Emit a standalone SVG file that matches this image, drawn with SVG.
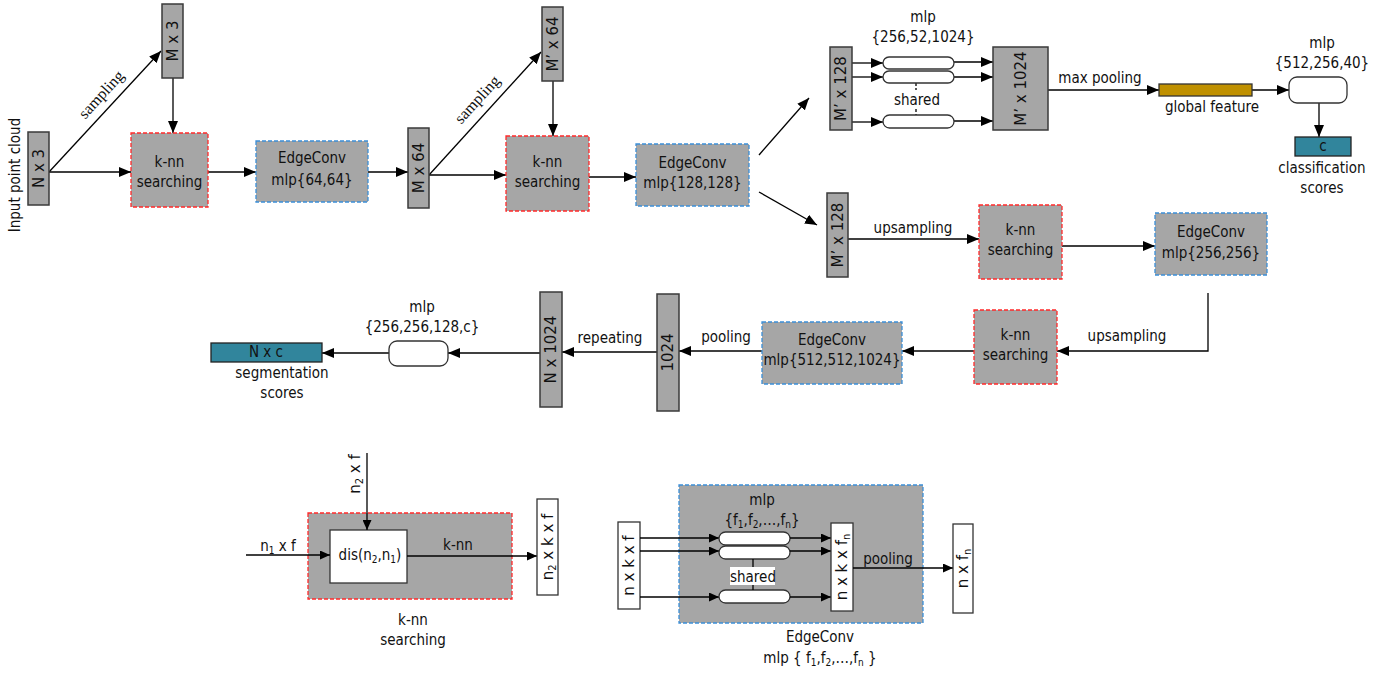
<svg xmlns="http://www.w3.org/2000/svg" width="1392" height="673" viewBox="0 0 1392 673">
<defs>
<marker id="ah" markerUnits="userSpaceOnUse" markerWidth="12" markerHeight="10" refX="12" refY="5" orient="auto">
<path d="M0,0 L12,5 L0,10 z" fill="#000"/>
</marker>
<marker id="ahs" markerUnits="userSpaceOnUse" markerWidth="10" markerHeight="9" refX="10" refY="4.5" orient="auto">
<path d="M0,0 L10,4.5 L0,9 z" fill="#000"/>
</marker>
</defs>
<style>
.t{font-family:"DejaVu Sans Condensed","DejaVu Sans",sans-serif;font-size:15px;fill:#111;text-anchor:middle}
.v{font-family:"DejaVu Sans",sans-serif;font-size:15px;fill:#111;text-anchor:middle}
.sr{font-family:"Liberation Serif",serif;font-size:16px;fill:#111;text-anchor:middle}
.sub{font-size:10px}
.bar{fill:#a6a6a6;stroke:#3a3a3a;stroke-width:1.5}
.knn{fill:#a6a6a6;stroke:#ff2a2a;stroke-width:1.3;stroke-dasharray:4 2}
.ec{fill:#a6a6a6;stroke:#3b8fd8;stroke-width:1.3;stroke-dasharray:4 2}
.wb{fill:#fff;stroke:#333;stroke-width:1.3}
.teal{fill:#31859c;stroke:#222;stroke-width:1.3}
.gold{fill:#bf9000;stroke:#333;stroke-width:1.3}
.ln{stroke:#000;stroke-width:1.3;fill:none}
</style>

<g id="connectors">
<line class="ln" x1="49" y1="172" x2="131" y2="172" marker-end="url(#ah)"/>
<line class="ln" x1="49" y1="172" x2="161" y2="51" marker-end="url(#ah)"/>
<line class="ln" x1="173" y1="78" x2="173" y2="133" marker-end="url(#ah)"/>
<line class="ln" x1="208" y1="172" x2="256" y2="172" marker-end="url(#ah)"/>
<line class="ln" x1="368" y1="172" x2="408" y2="172" marker-end="url(#ah)"/>
<line class="ln" x1="429" y1="175" x2="506" y2="175" marker-end="url(#ah)"/>
<line class="ln" x1="429" y1="175" x2="541" y2="52" marker-end="url(#ah)"/>
<line class="ln" x1="553" y1="81" x2="553" y2="136" marker-end="url(#ah)"/>
<line class="ln" x1="589" y1="177" x2="636" y2="177" marker-end="url(#ah)"/>
<line class="ln" x1="759" y1="155" x2="809" y2="98" marker-end="url(#ah)"/>
<line class="ln" x1="759" y1="192" x2="817" y2="225" marker-end="url(#ah)"/>
<line class="ln" x1="852" y1="63" x2="883" y2="63" marker-end="url(#ah)"/>
<line class="ln" x1="852" y1="77" x2="883" y2="77" marker-end="url(#ah)"/>
<line class="ln" x1="852" y1="122" x2="883" y2="122" marker-end="url(#ah)"/>
<line class="ln" x1="954" y1="62" x2="993" y2="62" marker-end="url(#ah)"/>
<line class="ln" x1="954" y1="77" x2="993" y2="77" marker-end="url(#ah)"/>
<line class="ln" x1="954" y1="121" x2="993" y2="121" marker-end="url(#ah)"/>
<line class="ln" x1="916" y1="83" x2="916" y2="90" stroke-dasharray="3 2"/>
<line class="ln" x1="916" y1="109" x2="916" y2="115" stroke-dasharray="3 2"/>
<line class="ln" x1="1048" y1="90" x2="1159" y2="90" marker-end="url(#ah)"/>
<line class="ln" x1="1252" y1="90" x2="1289" y2="90" marker-end="url(#ah)"/>
<line class="ln" x1="1319" y1="103" x2="1319" y2="137" marker-end="url(#ah)"/>
<line class="ln" x1="848" y1="239" x2="979" y2="239" marker-end="url(#ah)"/>
<line class="ln" x1="1062" y1="246" x2="1155" y2="246" marker-end="url(#ah)"/>
<polyline class="ln" points="1208,293 1208,351 1057,351" marker-end="url(#ah)"/>
<line class="ln" x1="974" y1="351" x2="902" y2="351" marker-end="url(#ah)"/>
<line class="ln" x1="762" y1="351" x2="679" y2="351" marker-end="url(#ah)"/>
<line class="ln" x1="657" y1="352" x2="562" y2="352" marker-end="url(#ah)"/>
<line class="ln" x1="540" y1="353" x2="448" y2="353" marker-end="url(#ah)"/>
<line class="ln" x1="389" y1="353" x2="322" y2="353" marker-end="url(#ah)"/>
</g>

<g id="input-label"><text class="t" transform="translate(20,175) rotate(-90)">Input point cloud</text></g>
<g id="n3"><rect class="bar" x="28" y="132" width="21" height="73"/><text class="v" transform="translate(44,168.5) rotate(-90)">N x 3</text></g>
<g id="sampling1"><text class="sr" transform="translate(105,98) rotate(-47.6)">sampling</text></g>
<g id="m3"><rect class="bar" x="162" y="4" width="21" height="74"/><text class="v" transform="translate(178,41) rotate(-90)">M x 3</text></g>
<g id="knn1"><rect class="knn" x="131" y="133" width="77" height="74"/><text class="t" x="169.5" y="167">k-nn</text><text class="t" x="169.5" y="187">searching</text></g>
<g id="ec1"><rect class="ec" x="256" y="141" width="112" height="61"/><text class="t" x="312" y="163">EdgeConv</text><text class="t" x="312" y="185">mlp{64,64}</text></g>
<g id="m64"><rect class="bar" x="408" y="128" width="21" height="80"/><text class="v" transform="translate(424,168) rotate(-90)">M x 64</text></g>
<g id="sampling2"><text class="sr" transform="translate(481,103) rotate(-47.6)">sampling</text></g>
<g id="mp64"><rect class="bar" x="542" y="7" width="21" height="74"/><text class="v" transform="translate(558,44) rotate(-90)">M’ x 64</text></g>
<g id="knn2"><rect class="knn" x="506" y="136" width="83" height="75"/><text class="t" x="547.5" y="167">k-nn</text><text class="t" x="547.5" y="187">searching</text></g>
<g id="ec2"><rect class="ec" x="636" y="144" width="113" height="62"/><text class="t" x="692.5" y="168">EdgeConv</text><text class="t" x="692.5" y="188">mlp{128,128}</text></g>

<g id="mp128-top"><rect class="bar" x="830" y="47" width="22" height="83"/><text class="v" transform="translate(846,88.5) rotate(-90)">M’ x 128</text></g>
<g id="shared-mlp-top">
<text class="t" x="923" y="22">mlp</text><text class="t" x="923" y="42">{256,52,1024}</text>
<rect class="wb" x="883" y="57" width="71" height="12" rx="6"/>
<rect class="wb" x="883" y="71" width="71" height="12" rx="6"/>
<rect class="wb" x="883" y="115" width="71" height="13" rx="6.5"/>
<text class="t" x="917" y="105">shared</text>
</g>
<g id="mp1024"><rect class="bar" x="993" y="47" width="55" height="83"/><text class="v" transform="translate(1026,88.5) rotate(-90)">M’ x 1024</text></g>
<g id="maxpool-label"><text class="t" x="1100" y="83">max pooling</text></g>
<g id="global"><rect class="gold" x="1159" y="84" width="93" height="12"/><text class="t" x="1212" y="112">global feature</text></g>
<g id="mlp-cls"><text class="t" x="1322" y="48">mlp</text><text class="t" x="1322" y="68">{512,256,40}</text><rect class="wb" x="1289" y="77" width="58" height="26" rx="8"/></g>
<g id="cls"><rect class="teal" x="1295" y="137" width="56" height="19"/><text class="t" x="1323" y="151">c</text><text class="t" x="1322" y="173">classification</text><text class="t" x="1322" y="193">scores</text></g>

<g id="mp128-low"><rect class="bar" x="827" y="193" width="21" height="84"/><text class="v" transform="translate(843,235) rotate(-90)">M’ x 128</text></g>
<g id="upsampling1"><text class="t" x="913" y="233">upsampling</text></g>
<g id="knn3"><rect class="knn" x="979" y="205" width="83" height="74"/><text class="t" x="1020.5" y="235">k-nn</text><text class="t" x="1020.5" y="255">searching</text></g>
<g id="ec3"><rect class="ec" x="1155" y="213" width="112" height="62"/><text class="t" x="1211" y="237">EdgeConv</text><text class="t" x="1211" y="258">mlp{256,256}</text></g>
<g id="upsampling2"><text class="t" x="1127" y="341">upsampling</text></g>
<g id="knn4"><rect class="knn" x="974" y="310" width="83" height="74"/><text class="t" x="1015.5" y="340">k-nn</text><text class="t" x="1015.5" y="360">searching</text></g>
<g id="ec4"><rect class="ec" x="762" y="322" width="140" height="62"/><text class="t" x="832" y="345">EdgeConv</text><text class="t" x="832" y="365">mlp{512,512,1024}</text></g>
<g id="pooling-label"><text class="t" x="726" y="342">pooling</text></g>
<g id="b1024"><rect class="bar" x="657" y="294" width="22" height="117"/><text class="v" transform="translate(673,352.5) rotate(-90)">1024</text></g>
<g id="repeating-label"><text class="t" x="610" y="343">repeating</text></g>
<g id="n1024"><rect class="bar" x="540" y="292" width="22" height="115"/><text class="v" transform="translate(556,349.5) rotate(-90)">N x 1024</text></g>
<g id="mlp-seg"><text class="t" x="422" y="312">mlp</text><text class="t" x="422" y="332">{256,256,128,c}</text><rect class="wb" x="389" y="341" width="59" height="25" rx="8"/></g>
<g id="seg"><rect class="teal" x="211" y="343" width="111" height="19"/><text class="t" x="266" y="357">N x c</text><text class="t" x="282" y="378">segmentation</text><text class="t" x="282" y="398">scores</text></g>

<g id="knn-detail">
<rect class="knn" x="308" y="513" width="204" height="86"/>
<rect class="wb" x="330" y="530" width="77" height="53"/>
<line class="ln" x1="367" y1="453" x2="367" y2="530" marker-end="url(#ahs)"/>
<line class="ln" x1="246" y1="555" x2="330" y2="555" marker-end="url(#ahs)"/>
<line class="ln" x1="407" y1="556" x2="537" y2="556" marker-end="url(#ahs)"/>
<text class="v" transform="translate(360,474) rotate(-90)">n<tspan class="sub" dy="3">2</tspan><tspan dy="-3"> x f</tspan></text>
<text class="t" x="278" y="551">n<tspan class="sub" dy="3">1</tspan><tspan dy="-3"> x f</tspan></text>
<text class="t" x="370" y="560">dis(n<tspan class="sub" dy="3">2</tspan><tspan dy="-3">,n</tspan><tspan class="sub" dy="3">1</tspan><tspan dy="-3">)</tspan></text>
<text class="t" x="458" y="550">k-nn</text>
<rect class="wb" x="537" y="499" width="21" height="96"/>
<text class="v" transform="translate(553,547) rotate(-90)">n<tspan class="sub" dy="3">2</tspan><tspan dy="-3"> x k x f</tspan></text>
<text class="t" x="413" y="625">k-nn</text>
<text class="t" x="413" y="645">searching</text>
</g>

<g id="edgeconv-detail">
<rect class="ec" x="679" y="485" width="244" height="138"/>
<rect class="wb" x="618" y="522" width="22" height="87"/>
<text class="v" transform="translate(634,565.5) rotate(-90)">n x k x f</text>
<line class="ln" x1="640" y1="538" x2="719" y2="538" marker-end="url(#ahs)"/>
<line class="ln" x1="640" y1="551" x2="719" y2="551" marker-end="url(#ahs)"/>
<line class="ln" x1="640" y1="597" x2="719" y2="597" marker-end="url(#ahs)"/>
<rect class="wb" x="719" y="532" width="71" height="13" rx="6.5"/>
<rect class="wb" x="719" y="546" width="71" height="13" rx="6.5"/>
<rect class="wb" x="719" y="590" width="71" height="13" rx="6.5"/>
<line class="ln" x1="753" y1="559" x2="753" y2="590" stroke-width="1"/>
<rect x="730" y="567" width="45" height="18" fill="#fff"/>
<text class="t" x="753" y="582">shared</text>
<text class="t" x="762" y="505">mlp</text>
<text class="t" x="762" y="525">{f<tspan class="sub" dy="3">1</tspan><tspan dy="-3">,f</tspan><tspan class="sub" dy="3">2</tspan><tspan dy="-3">,…,f</tspan><tspan class="sub" dy="3">n</tspan><tspan dy="-3">}</tspan></text>
<line class="ln" x1="790" y1="538" x2="831" y2="538" marker-end="url(#ahs)"/>
<line class="ln" x1="790" y1="551" x2="831" y2="551" marker-end="url(#ahs)"/>
<line class="ln" x1="790" y1="597" x2="831" y2="597" marker-end="url(#ahs)"/>
<rect class="wb" x="831" y="523" width="22" height="88"/>
<text class="v" transform="translate(847,567) rotate(-90)">n x k x f<tspan class="sub" dy="3">n</tspan></text>
<text class="t" x="888" y="564">pooling</text>
<line class="ln" x1="853" y1="568" x2="953" y2="568" marker-end="url(#ahs)"/>
<rect class="wb" x="953" y="524" width="20" height="89"/>
<text class="v" transform="translate(968,568.5) rotate(-90)">n x f<tspan class="sub" dy="3">n</tspan></text>
<text class="t" x="820" y="642">EdgeConv</text>
<text class="t" x="820" y="663">mlp { f<tspan class="sub" dy="3">1</tspan><tspan dy="-3">,f</tspan><tspan class="sub" dy="3">2</tspan><tspan dy="-3">,…,f</tspan><tspan class="sub" dy="3">n</tspan><tspan dy="-3"> }</tspan></text>
</g>
</svg>
